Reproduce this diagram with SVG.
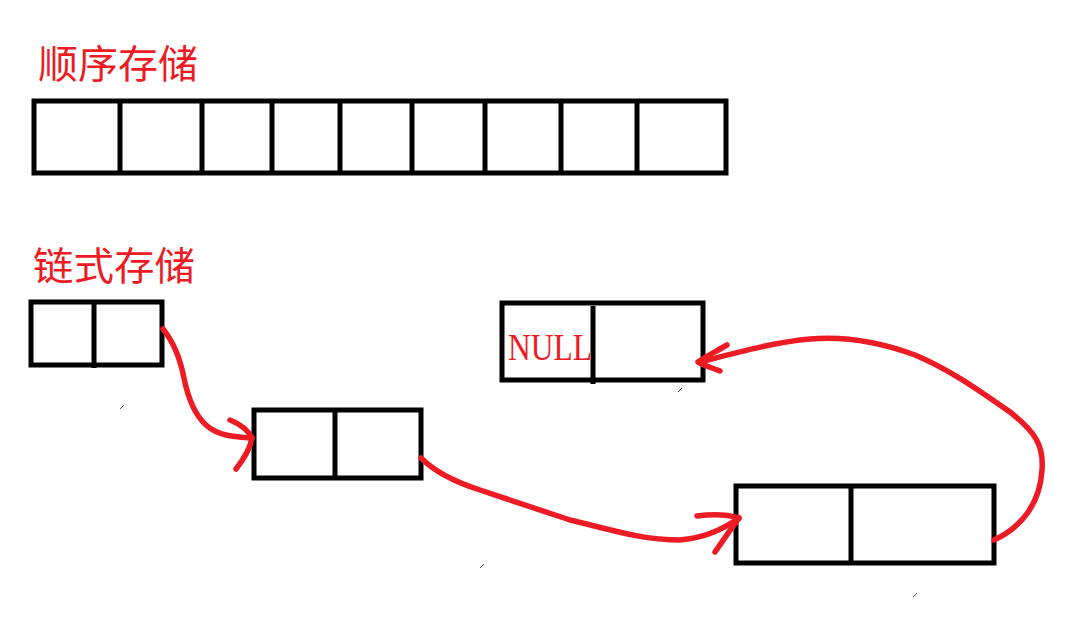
<svg xmlns="http://www.w3.org/2000/svg" width="1075" height="624" viewBox="0 0 1075 624">
<style>
.box{fill:none;stroke:#000;stroke-width:5}
.div{stroke:#000;stroke-width:5}
.lbl{fill:#ED1C24;font-family:"Noto Sans CJK SC","Noto Sans CJK JP",sans-serif;font-size:39px}
.red{fill:none;stroke:#ED1C24;stroke-width:5.5;stroke-linecap:round;stroke-linejoin:round}
.tick{stroke:#555;stroke-width:1}
</style>
<rect width="1075" height="624" fill="#fff"/>
<text class="lbl" x="38" y="78" textLength="160" lengthAdjust="spacingAndGlyphs">顺序存储</text>
<g id="array">
<rect class="box" x="34" y="101" width="692" height="72"/>
<line class="div" x1="120" y1="101" x2="120" y2="173"/>
<line class="div" x1="202" y1="101" x2="202" y2="173"/>
<line class="div" x1="272" y1="101" x2="272" y2="173"/>
<line class="div" x1="340" y1="101" x2="340" y2="173"/>
<line class="div" x1="412" y1="101" x2="412" y2="173"/>
<line class="div" x1="485" y1="101" x2="485" y2="173"/>
<line class="div" x1="561" y1="101" x2="561" y2="173"/>
<line class="div" x1="637" y1="101" x2="637" y2="173"/>
</g>
<text class="lbl" x="33" y="280" textLength="162" lengthAdjust="spacingAndGlyphs">链式存储</text>
<g id="node1">
<rect class="box" x="31" y="302" width="131" height="63"/>
<line class="div" x1="94" y1="302" x2="94" y2="368"/>
</g>
<g id="node2">
<rect class="box" x="254" y="410" width="167" height="68"/>
<line class="div" x1="335" y1="410" x2="335" y2="478"/>
</g>
<g id="node3">
<rect class="box" x="502" y="303" width="201" height="77"/>
<line class="div" x1="593" y1="306" x2="593" y2="384"/>
<text x="508" y="360" fill="#ED1C24" font-family="Liberation Serif, serif" font-size="38" textLength="84" lengthAdjust="spacingAndGlyphs">NULL</text>
</g>
<g id="node4">
<rect class="box" x="736" y="486" width="258" height="77"/>
<line class="div" x1="851" y1="486" x2="851" y2="563"/>
</g>
<g id="connectors">
<path class="red" d="M163 329 C172 340 180 358 184 378 C188 398 195 415 206 425 C218 436 235 437 252 438"/>
<path class="red" d="M230 420 C240 424 248 430 252 438 C250 450 243 460 236 469"/>
<path class="red" d="M421 458 C435 472 455 482 480 490 C510 500 540 510 570 520 C605 528 640 540 680 540 C705 538 725 528 739 518"/>
<path class="red" d="M697 516 C712 514 726 514 739 518 C730 530 722 542 715 552"/>
<path class="red" d="M994 540 C1020 528 1040 505 1042 470 C1044 445 1035 432 1010 412 C985 395 955 372 915 355 C880 342 845 336 810 339 C775 342 740 352 700 362"/>
<path class="red" d="M727 345 C715 352 705 357 698 362 C705 366 713 368 720 371"/>
</g>
<g id="marks">
<line class="tick" x1="120" y1="409" x2="124" y2="405"/>
<line class="tick" x1="480" y1="568" x2="484" y2="564"/>
<line class="tick" x1="678" y1="392" x2="682" y2="388"/>
<line class="tick" x1="913" y1="597" x2="917" y2="593"/>
</g>
</svg>
